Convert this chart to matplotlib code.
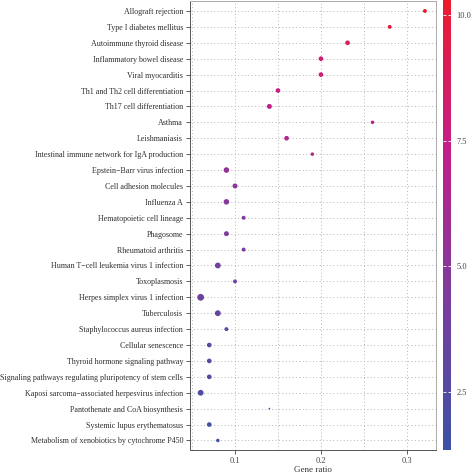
import numpy as np
import matplotlib
matplotlib.use("Agg")
import matplotlib.pyplot as plt
from matplotlib.colors import LinearSegmentedColormap, Normalize
from matplotlib.ticker import MultipleLocator

pathways = [
    "Allograft rejection",
    "Type I diabetes mellitus",
    "Autoimmune thyroid disease",
    "Inflammatory bowel disease",
    "Viral myocarditis",
    "Th1 and Th2 cell differentiation",
    "Th17 cell differentiation",
    "Asthma",
    "Leishmaniasis",
    "Intestinal immune network for IgA production",
    "Epstein\u2212Barr virus infection",
    "Cell adhesion molecules",
    "Influenza A",
    "Hematopoietic cell lineage",
    "Phagosome",
    "Rheumatoid arthritis",
    "Human T\u2212cell leukemia virus 1 infection",
    "Toxoplasmosis",
    "Herpes simplex virus 1 infection",
    "Tuberculosis",
    "Staphylococcus aureus infection",
    "Cellular senescence",
    "Thyroid hormone signaling pathway",
    "Signaling pathways regulating pluripotency of stem cells",
    "Kaposi sarcoma\u2212associated herpesvirus infection",
    "Pantothenate and CoA biosynthesis",
    "Systemic lupus erythematosus",
    "Metabolism of xenobiotics by cytochrome P450",
]
gene_ratio = [0.321, 0.280, 0.231, 0.200, 0.200, 0.150, 0.140, 0.260, 0.160, 0.190,
              0.090, 0.100, 0.090, 0.110, 0.090, 0.110, 0.080, 0.100, 0.060, 0.080,
              0.090, 0.070, 0.070, 0.070, 0.060, 0.140, 0.070, 0.080]
neg_log_p = [10.3, 9.6, 8.8, 8.1, 8.0, 7.6, 7.3, 7.0, 6.6, 6.5,
             5.3, 5.0, 4.8, 4.6, 4.5, 4.2, 4.0, 3.8, 3.6, 3.3,
             3.0, 2.8, 2.6, 2.4, 2.3, 2.1, 1.8, 1.5]
counts = [5, 5, 7, 7, 7, 7, 8, 4, 7, 4,
          10, 8, 10, 5, 8, 5, 11, 5, 15, 11,
          5, 7, 7, 7, 11, 1, 7, 4]

cmap = LinearSegmentedColormap.from_list(
    "bluered", ["#3B52A4", "#7B3D9E", "#C41E88", "#EE1C2A"])
norm = Normalize(vmin=1.35, vmax=10.4)

plt.rcParams["font.family"] = ["Liberation Serif", "DejaVu Serif"]

fig = plt.figure(figsize=(4.74, 4.74), dpi=100)
ax = fig.add_axes([0.401, 0.0506, 0.519, 0.9464])
cax = fig.add_axes([0.9346, 0.0506, 0.0169, 0.96])

y = np.arange(len(pathways))
sc = ax.scatter(gene_ratio, y, c=neg_log_p, s=np.array(counts) * 1.6,
                cmap=cmap, norm=norm, zorder=3, linewidths=0)

ax.set_ylim(len(pathways) - 0.4, -0.6)
ax.set_xlim(0.0477, 0.334)
ax.set_yticks(y)
ax.set_yticklabels(pathways, fontsize=5.75, color="#2e2e2e")
ax.xaxis.set_minor_locator(MultipleLocator(0.05))
ax.set_xticks([0.1, 0.2, 0.3])
ax.set_xticklabels(["0.1", "0.2", "0.3"], fontsize=6, color="#444444")
ax.set_xlabel("Gene ratio", fontsize=6.5, color="#333333", labelpad=1)
ax.grid(True, which="both", linestyle=(0, (1, 2.5)), color="#b5b5b5", linewidth=0.7)
ax.set_axisbelow(True)
ax.tick_params(axis="both", which="major", length=3, width=0.6, color="#444444", pad=2)
ax.tick_params(axis="x", which="minor", length=0)
for side in ["left", "bottom"]:
    ax.spines[side].set_color("#555555")
    ax.spines[side].set_linewidth(0.7)
for side in ["right", "top"]:
    ax.spines[side].set_color("#aaaaaa")
    ax.spines[side].set_linewidth(0.7)

cb = fig.colorbar(sc, cax=cax)
cb.outline.set_visible(False)
cb.set_ticks([2.5, 5.0, 7.5, 10.0])
cb.set_ticklabels(["2.5", "5.0", "7.5", "10.0"])
cb.ax.tick_params(labelsize=6, labelcolor="#444444", color="white",
                  direction="in", length=2, width=0.6, pad=4, left=True)

fig.savefig("out.png", dpi=100)
